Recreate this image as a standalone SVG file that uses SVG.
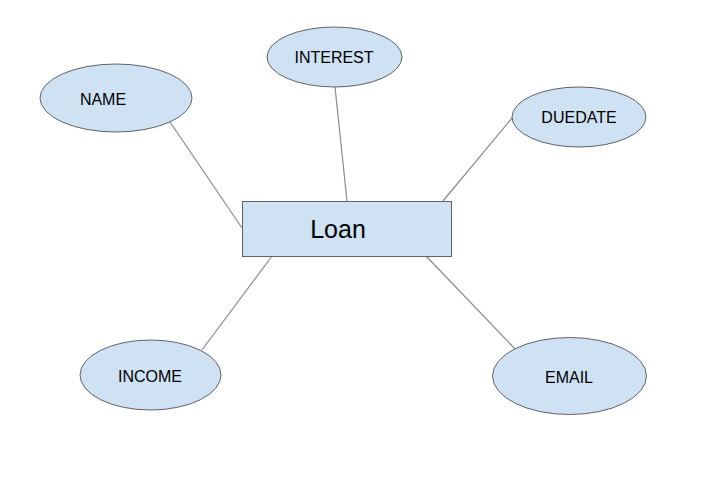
<svg xmlns="http://www.w3.org/2000/svg" width="705" height="489" viewBox="0 0 705 489">
<style>
.shape{fill:#cfe2f3;stroke:#5f6368;stroke-width:1}
.lbl{font-family:"Liberation Sans",Arial,sans-serif;font-size:16px;fill:#000;text-anchor:middle;dominant-baseline:central}
.big{font-size:25px}
.conn line{stroke:#8a8a8a;stroke-width:1.2}
</style>
<rect width="705" height="489" fill="#fff"/>
<g id="connectors" class="conn">
<line x1="170" y1="122" x2="242" y2="228"/>
<line x1="335" y1="87" x2="347" y2="201"/>
<line x1="512" y1="118" x2="443" y2="201"/>
<line x1="202" y1="350" x2="272" y2="256"/>
<line x1="516" y1="350" x2="426" y2="256"/>
</g>
<g id="loan"><rect class="shape" x="242.5" y="201.5" width="209" height="55"/><text class="lbl big" x="338" y="229">Loan</text></g>
<g id="name"><ellipse class="shape" cx="116" cy="98" rx="76" ry="34"/><text class="lbl" x="103" y="99">NAME</text></g>
<g id="interest"><ellipse class="shape" cx="334.5" cy="57" rx="67.5" ry="30"/><text class="lbl" x="334" y="57">INTEREST</text></g>
<g id="duedate"><ellipse class="shape" cx="579" cy="117" rx="67" ry="30"/><text class="lbl" x="579" y="117">DUEDATE</text></g>
<g id="income"><ellipse class="shape" cx="150.5" cy="375" rx="70.5" ry="35"/><text class="lbl" x="150" y="376">INCOME</text></g>
<g id="email"><ellipse class="shape" cx="569.5" cy="376" rx="77" ry="38.5"/><text class="lbl" x="569" y="377">EMAIL</text></g>
</svg>
